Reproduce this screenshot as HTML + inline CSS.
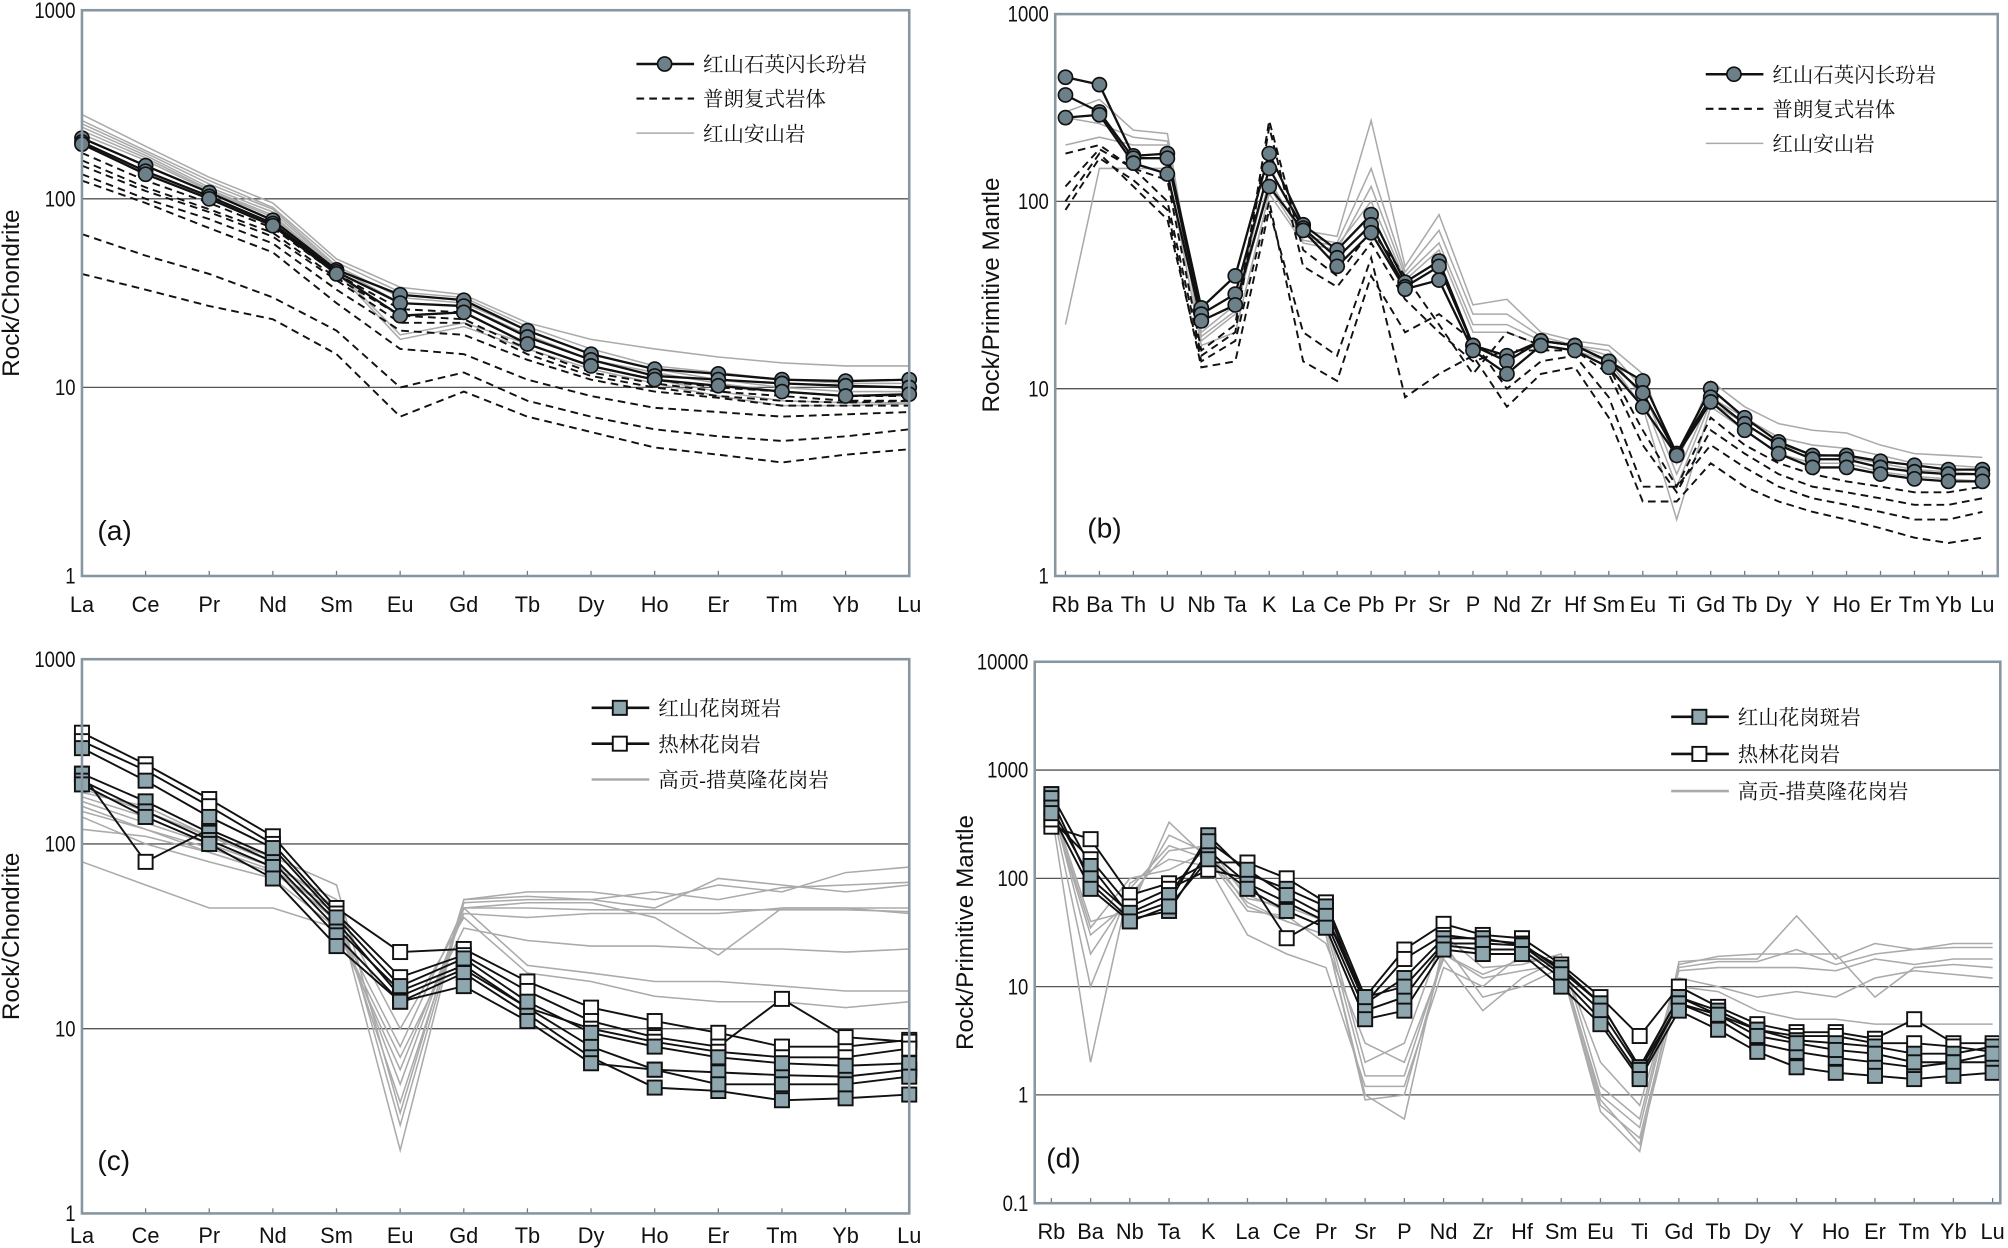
<!DOCTYPE html>
<html><head><meta charset="utf-8"><style>
html,body{margin:0;padding:0;background:#fff;}
svg{display:block;}
text{font-family:"Liberation Sans","Noto Sans CJK SC",sans-serif;}
.cn{font-family:"Liberation Serif","Noto Serif CJK SC",serif;}
</style></head><body>
<svg id="fig" width="2008" height="1248" viewBox="0 0 1568 975" preserveAspectRatio="none" xmlns="http://www.w3.org/2000/svg"></svg>
<script>
// ---------- Panel (a) data ----------
const catsA = ["La","Ce","Pr","Nd","Sm","Eu","Gd","Tb","Dy","Ho","Er","Tm","Yb","Lu"];
const aCircle1 = [210,150,108,77,42,31,29,20,15,12.5,11.8,11,10.8,11];
const aCircle2 = [200,140,103,74,41,28,27,18.5,14,11.5,11,10.5,10.2,10];
const aCircle3 = [195,135,100,72,40,24,25,17,13,11,10.2,9.5,9,9.2];
const aDash1 = [175,125,95,70,40,26,25,17,13,11,10,9.5,9,9];
const aDash2 = [160,115,88,66,38,24,23,16,12,10.5,9.5,9,8.5,8.5];
const aDash3 = [150,110,85,63,37,22,22,15,11.5,10,9,8.5,8.3,8.5];
const aDash4 = [135,100,78,58,33,20,19,14,11,9.5,8.8,8,8,8];
const aDash5 = [125,95,70,52,28,16,15,11,9,7.8,7.4,7,7.2,7.4];
const aDash6 = [65,50,40,30,20,10,12,8.5,7,6,5.5,5.2,5.5,6];
const aDash7 = [40,33,27,23,15,7,9.5,7,5.8,4.8,4.4,4,4.4,4.7];
const aGray1 = [280,190,130,95,48,34,31,22,18,16,14.5,13.5,13,13];
const aGray2 = [260,180,125,90,46,32,30,21,16,13,12,11,10.5,10.5];
const aGray3 = [250,175,120,88,44,30,28,20,15,12.5,11,10,9.5,9.5];
const aGray4 = [240,170,115,85,43,28,27,19,14,12,10.5,9.5,9,9];
const aGray5 = [230,165,112,82,42,19,22,17,13,11,9.5,8.5,8.3,8.3];
const aGray6 = [220,160,110,80,41,18,21,16,12.5,10.5,9,8,8,8.2];
// ---------- Panel (b) data ----------
const catsB = ["Rb","Ba","Th","U","Nb","Ta","K","La","Ce","Pb","Pr","Sr","P","Nd","Zr","Hf","Sm","Eu","Ti","Gd","Tb","Dy","Y","Ho","Er","Tm","Yb","Lu"];
const bCircle1 = [460,420,175,180,27,40,180,75,55,85,37,48,17,15,18,17,14,11,4.5,10,7,5.2,4.4,4.4,4.1,3.9,3.7,3.7];
const bCircle2 = [370,300,170,170,25,32,150,72,50,75,35,45,17,14,18,17,14,9.5,4.5,9,6.5,5,4.2,4.2,3.8,3.6,3.5,3.5];
const bCircle3 = [280,290,160,140,23,28,120,70,45,68,34,38,16,12,17,16,13,8,4.4,8.5,6,4.5,3.8,3.8,3.5,3.3,3.2,3.2];
const bDash1 = [180,200,150,130,16,22,270,55,40,70,40,22,12,20,17,16,13,6,3,7,5,4,3.5,3.2,3,2.8,2.8,3];
const bDash2 = [120,190,150,100,15,20,250,45,35,60,30,20,14,16,16,16,12,5,2.8,6,4.5,3.5,3,2.8,2.6,2.4,2.4,2.6];
const bDash3 = [100,180,120,80,14,18,100,14,11,40,20,25,18,10,14,15,9,3,3,5,3.8,3,2.6,2.4,2.2,2,2,2.2];
const bDash4 = [90,170,130,90,13,14,90,20,15,50,9,12,15,8,12,13,7,2.5,2.5,4,3,2.5,2.2,2,1.8,1.6,1.5,1.6];
const bGray1 = [300,350,240,230,20,28,150,70,65,270,45,85,28,30,20,18,17,12,4,11,8,6.5,6,5.8,5,4.5,4.4,4.3];
const bGray2 = [280,260,220,210,18,25,130,65,60,150,42,70,25,25,19,17,16,10,3.5,9,7,5.5,5,4.8,4.4,4,3.9,3.8];
const bGray3 = [22,150,150,150,17,20,110,60,55,120,40,60,22,22,18,17,15,9,3,8.5,6.5,5,4.5,4.3,4,3.7,3.6,3.5];
const bGray4 = [200,220,200,200,19,26,120,62,58,100,38,55,20,20,17,16,14,8,2,8,6,4.5,4,4,3.6,3.4,3.3,3.2];
// ---------- Panel (c) data ----------
const cFill1 = [240,170,115,80,35,16,22,13,8,6,5.8,5.6,5.5,6];
const cFill2 = [220,150,105,75,32,14,20,12,7,4.8,4.6,4.1,4.2,4.4];
const cFill3 = [330,220,140,95,40,17,24,14,9.5,8,7,6.5,6.3,6.5];
const cFill4 = [210,140,100,65,28,14,17,11,6.5,6,5,5,5,5.5];
const cOpen1 = [400,270,175,110,45,26,27,18,13,11,9.5,8,8,8.7];
const cOpen2 = [360,250,160,100,42,19,25,16,11,9,8,14.5,9,8.5];
const cOpen3 = [240,80,120,85,38,15,21,13,10,8.5,7.5,7,7,7.8];
const cGray1 = [200,150,110,80,45,2.2,50,55,55,50,60,55,70,75];
const cGray2 = [180,140,100,75,50,3,48,50,50,45,65,60,55,60];
const cGray3 = [160,120,90,70,40,5,45,48,48,40,25,45,45,42];
const cGray4 = [80,60,45,45,35,6,42,40,42,42,42,45,45,45];
const cGray5 = [150,120,95,72,42,4,45,45,44,44,44,44,44,43];
const cGray6 = [170,130,100,75,38,8,45,22,20,18,18,17,16,16];
const cGray7 = [120,110,90,70,45,10,40,20,18,15,14,14,13,14];
const cGray8 = [190,160,110,85,60,3.5,50,52,50,55,50,58,60,62];
const cGray9 = [140,100,80,65,35,7,35,30,28,28,27,27,26,27];
// ---------- Panel (d) data ----------
const catsD = ["Rb","Ba","Nb","Ta","K","La","Ce","Pr","Sr","P","Nd","Zr","Hf","Sm","Eu","Ti","Gd","Tb","Dy","Y","Ho","Er","Tm","Yb","Lu"];
const dFill1 = [600,130,45,60,250,110,80,55,7,12,28,28,24,15,7,1.8,8,6,4,3.2,3,2.8,2.4,2.4,2.8];
const dFill2 = [550,90,42,50,180,90,60,40,6,8,24,22,22,12,5,1.5,7,5,3,2.5,2.2,2,1.8,2,2];
const dFill3 = [450,100,48,70,220,120,70,45,8,10,25,25,24,13,6,1.7,7,5.5,3.5,3,2.6,2.4,2,2,2.4];
const dFill4 = [400,80,40,55,150,80,50,35,5,6,22,20,20,10,4.5,1.4,6,4,2.5,1.8,1.6,1.5,1.4,1.5,1.6];
const dOpen1 = [300,230,70,90,140,140,100,60,8,22,38,30,28,16,8,3.5,10,6.5,4.5,3.8,3.8,3.3,5,3,3];
const dOpen2 = [350,150,55,80,120,100,28,45,7,18,30,27,25,14,7,1.8,8,5.5,4,3.5,3.5,3,3,2.8,2.5];
const dGray1 = [500,40,50,330,150,60,40,30,1,0.6,25,8,10,15,0.7,0.3,17,18,18,45,18,25,22,25,25];
const dGray2 = [450,30,60,250,170,70,50,35,1.5,1.5,20,12,14,16,1,0.5,15,17,17,22,16,20,22,23,23];
const dGray3 = [480,10,80,200,150,50,45,25,3,2,18,6,12,18,2,0.8,14,15,15,15,14,18,16,18,18];
const dGray4 = [420,2,90,150,130,30,20,15,1.2,1.2,15,10,20,15,0.8,0.4,12,10,8,9,8,12,14,13,12];
const dGray5 = [520,20,70,180,200,65,55,40,2,3,30,15,16,20,1.2,0.6,16,19,20,20,20,8,15,16,15];
const dGray6 = [460,35,100,120,180,55,40,30,0.9,1,20,13,18,17,0.9,0.35,10,9,6,5,5,4.5,4.5,4.5,4.5];
const ticksREE = [1,10,100,1000];
const ticksD = [0.1,1,10,100,1000,10000];

const NS="http://www.w3.org/2000/svg";
const svg=document.getElementById('fig');
function mk(tag,attrs,parent){const e=document.createElementNS(NS,tag);for(const k in attrs)e.setAttribute(k,attrs[k]);(parent||svg).appendChild(e);return e;}

function panel(cfg){
  const g=mk('g',{});
  
  
  const lmin=Math.log10(cfg.ymin), lmax=Math.log10(cfg.ymax);
  const yS=v=>cfg.bottom-(Math.log10(v)-lmin)/(lmax-lmin)*(cfg.bottom-cfg.top);
  const n=cfg.cats.length;
  const xS=i=>cfg.x0+i*(cfg.x1-cfg.x0)/(n-1);
  cfg.ticks.forEach(t=>{
    const y=yS(t);
    if(t!==cfg.ymin && t!==cfg.ymax){
      const l=mk('line',{x1:cfg.left,x2:cfg.right,y1:y,y2:y,stroke:'#555','stroke-width':1},g);
      
      
    }
    const tx=mk('text',{x:cfg.left-5,y:y+6,'text-anchor':'end','font-size':17,fill:'#111','transform':`translate(${cfg.left-5},${y}) scale(0.85,1) translate(${-(cfg.left-5)},${-y})`},g);
    tx.textContent=String(t);
    
    
  });
  cfg.cats.forEach((c,i)=>{
    const x=xS(i);
    mk('line',{x1:x,x2:x,y1:cfg.bottom,y2:cfg.bottom-4,stroke:'#777','stroke-width':1},g);
    const t=mk('text',{x:x,y:cfg.bottom+cfg.xlOff,'text-anchor':'middle','font-size':17,fill:'#111'},g);
    t.textContent=c;
    
    
  });
  cfg.series.forEach(s=>{
    const pts=s.data.map((v,i)=>xS(i).toFixed(1)+','+yS(v).toFixed(1)).join(' ');
    const pl=mk('polyline',{points:pts,fill:'none',stroke:s.color,'stroke-width':s.w,'stroke-dasharray':s.dash||'none'},g);
    
    
  });
  cfg.series.forEach(s=>{
    if(!s.marker) return;
    s.data.forEach((v,i)=>{
      const x=xS(i),y=yS(v);
      let m;
      if(s.marker==='circle') m=mk('circle',{cx:x,cy:y,r:5.5,fill:'#6b8088',stroke:'#111','stroke-width':1.3},g);
      else m=mk('rect',{x:x-5.5,y:y-5.5,width:11,height:11,fill:s.marker==='sqfill'?'#8ea6ad':'#fff',stroke:'#111','stroke-width':1.5},g);
      
      
    });
  });
  const fr=mk('rect',{x:cfg.left,y:cfg.top,width:cfg.right-cfg.left,height:cfg.bottom-cfg.top,fill:'none',stroke:'#8796a0','stroke-width':2},g);
  
  
  const cy=(cfg.top+cfg.bottom)/2;
  const at=mk('text',{x:cfg.titleX,y:cy,'text-anchor':'middle','font-size':19,fill:'#111',transform:`rotate(-90 ${cfg.titleX} ${cy})`},g);
  at.textContent=cfg.title;
  
  
  const pl=mk('text',{x:cfg.letter[0],y:cfg.letter[1],'font-size':22,fill:'#111','font-family':'Liberation Serif, serif'},g);
  pl.textContent=cfg.letterText;
  
  
  cfg.legend.forEach((L,i)=>{
    const y=cfg.legY+i*cfg.legDy;
    const lg=mk('g',{},g);
    
    
    mk('line',{x1:cfg.legX,x2:cfg.legX+45,y1:y,y2:y,stroke:L.color,'stroke-width':L.w,'stroke-dasharray':L.dash||'none'},lg);
    const cx=cfg.legX+22;
    if(L.marker==='circle') mk('circle',{cx:cx,cy:y,r:5.5,fill:'#6b8088',stroke:'#111','stroke-width':1.3},lg);
    else if(L.marker) mk('rect',{x:cx-5.5,y:y-5.5,width:11,height:11,fill:L.marker==='sqfill'?'#8ea6ad':'#fff',stroke:'#111','stroke-width':1.5},lg);
    const t=mk('text',{x:cfg.legX+52,y:y+6,'font-size':16,fill:'#111',class:'cn'},lg);
    t.textContent=L.text;
  });
}
const S=(d,kind,color,w,dash,marker)=>({data:d,kind,color,w,dash,marker});

panel({name:'panel-a',left:64,right:710,top:8,bottom:450,x0:64,x1:710,ymin:1,ymax:1000,ticks:ticksREE,cats:catsA,xlOff:28,
  title:'Rock/Chondrite',titleX:15,letter:[76,422],letterText:'(a)',legX:497,legY:50,legDy:27,
  legend:[{text:'红山石英闪长玢岩',color:'#111',w:2,marker:'circle'},{text:'普朗复式岩体',color:'#111',w:1.6,dash:'6,4'},{text:'红山安山岩',color:'#aaa',w:1.2}],
  series:[...[aGray1,aGray2,aGray3,aGray4,aGray5,aGray6].map(d=>S(d,'andesite','#aaa',1.2)),
    ...[aDash1,aDash2,aDash3,aDash4,aDash5,aDash6,aDash7].map(d=>S(d,'pulang','#111',1.5,'6,4')),
    ...[aCircle1,aCircle2,aCircle3].map(d=>S(d,'porphyry','#111',1.8,null,'circle'))]});

panel({name:'panel-b',left:824,right:1560,top:11,bottom:450,x0:832,x1:1548,ymin:1,ymax:1000,ticks:ticksREE,cats:catsB,xlOff:28,
  title:'Rock/Primitive Mantle',titleX:780,letter:[849,420],letterText:'(b)',legX:1332,legY:58,legDy:27,
  legend:[{text:'红山石英闪长玢岩',color:'#111',w:2,marker:'circle'},{text:'普朗复式岩体',color:'#111',w:1.6,dash:'6,4'},{text:'红山安山岩',color:'#aaa',w:1.2}],
  series:[...[bGray1,bGray2,bGray3,bGray4].map(d=>S(d,'andesite','#aaa',1.2)),
    ...[bDash1,bDash2,bDash3,bDash4].map(d=>S(d,'pulang','#111',1.5,'6,4')),
    ...[bCircle1,bCircle2,bCircle3].map(d=>S(d,'porphyry','#111',1.8,null,'circle'))]});

panel({name:'panel-c',left:64,right:710,top:515,bottom:948,x0:64,x1:710,ymin:1,ymax:1000,ticks:ticksREE,cats:catsA,xlOff:23,
  title:'Rock/Chondrite',titleX:15,letter:[76,914],letterText:'(c)',legX:462,legY:553,legDy:28,
  legend:[{text:'红山花岗斑岩',color:'#111',w:2,marker:'sqfill'},{text:'热林花岗岩',color:'#111',w:2,marker:'sqopen'},{text:'高贡-措莫隆花岗岩',color:'#aaa',w:2}],
  series:[...[cGray1,cGray2,cGray3,cGray4,cGray5,cGray6,cGray7,cGray8,cGray9].map(d=>S(d,'gaogong','#aaa',1.2)),
    ...[cOpen1,cOpen2,cOpen3].map(d=>S(d,'relin','#111',1.5,null,'sqopen')),
    ...[cFill1,cFill2,cFill3,cFill4].map(d=>S(d,'hongshan','#111',1.5,null,'sqfill'))]});

panel({name:'panel-d',left:808,right:1562,top:517,bottom:940,x0:821,x1:1556,ymin:0.1,ymax:10000,ticks:ticksD,cats:catsD,xlOff:28,
  title:'Rock/Primitive Mantle',titleX:760,letter:[817,912],letterText:'(d)',legX:1305,legY:560,legDy:29,
  legend:[{text:'红山花岗斑岩',color:'#111',w:2,marker:'sqfill'},{text:'热林花岗岩',color:'#111',w:2,marker:'sqopen'},{text:'高贡-措莫隆花岗岩',color:'#aaa',w:2}],
  series:[...[dGray1,dGray2,dGray3,dGray4,dGray5,dGray6].map(d=>S(d,'gaogong','#aaa',1.2)),
    ...[dOpen1,dOpen2].map(d=>S(d,'relin','#111',1.5,null,'sqopen')),
    ...[dFill1,dFill2,dFill3,dFill4].map(d=>S(d,'hongshan','#111',1.5,null,'sqfill'))]});
</script>
</body></html>
